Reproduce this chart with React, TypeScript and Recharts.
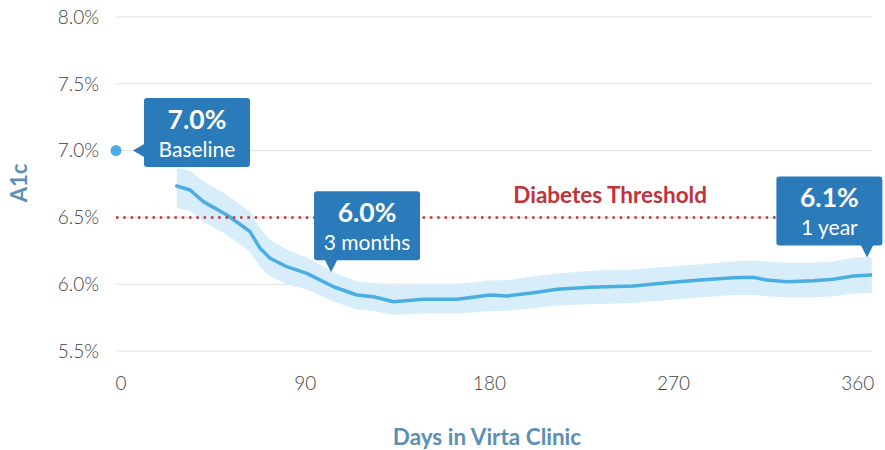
import React from 'react';
import {
  ComposedChart,
  Area,
  Line,
  XAxis,
  YAxis,
  CartesianGrid,
  ReferenceLine,
  ReferenceDot,
} from 'recharts';

// ---- data ----
const days = [
  27.2, 33.7, 40.2, 51.7, 59.8, 63.0, 67.9, 72.8, 81.0, 90.8, 103.8, 115.2, 123.3, 133.1, 147.8, 164.1,
  180.4, 188.5, 201.5, 213.0, 229.2, 250.4, 266.7, 283.0, 299.3, 309.0, 315.6, 325.4, 338.4, 348.1,
  357.9, 366.9,
];
const a1c = [
  6.735, 6.705, 6.618, 6.518, 6.43, 6.393, 6.269, 6.194, 6.131, 6.081, 5.981, 5.919, 5.906, 5.869, 5.887,
  5.887, 5.919, 5.912, 5.936, 5.962, 5.977, 5.987, 6.011, 6.031, 6.049, 6.052, 6.031, 6.019, 6.026,
  6.037, 6.061, 6.069,
];
const upper = [
  6.87, 6.85, 6.77, 6.67, 6.58, 6.54, 6.42, 6.33, 6.26, 6.2, 6.09, 6.02, 6.01, 5.99, 6.0, 6.0, 6.03,
  6.03, 6.06, 6.08, 6.1, 6.11, 6.13, 6.15, 6.17, 6.18, 6.17, 6.16, 6.16, 6.17, 6.2, 6.2,
];
const lower = [
  6.57, 6.55, 6.47, 6.37, 6.28, 6.24, 6.13, 6.06, 6.0, 5.96, 5.87, 5.81, 5.8, 5.77, 5.78, 5.78, 5.8,
  5.8, 5.82, 5.84, 5.85, 5.86, 5.88, 5.9, 5.92, 5.92, 5.91, 5.9, 5.9, 5.91, 5.93, 5.93,
];

const xTicks = [0, 90, 180, 270, 360];
const yTicks = [5.5, 6.0, 6.5, 7.0, 7.5, 8.0];
const xDomain = [-2.5, 367];
const yDomain = [5.5, 8.0];

const baselineDay = -2.5;
const baselineValue = 7.0;

const thresholdValue = 6.5;
const thresholdLabel = 'Diabetes Threshold';
const thresholdLabelDay = 239;

const calloutDays = [5.8, 102.6, 364.6];
const calloutValues = [7.0, 6.09, 6.2];
const calloutBig = ['7.0%', '6.0%', '6.1%'];
const calloutSmall = ['Baseline', '3 months', '1 year'];
const calloutDir = ['left', 'down', 'down'];
const calloutShift = [11, -17, -90.7];

const xLabel = 'Days in Virta Clinic';
const yLabel = 'A1c';

// ---- styles ----
const FONT = 'Lato, "Open Sans", sans-serif';
const LINE_COLOR = '#4aaee3';
const BAND_COLOR = '#d7eefa';
const BOX_COLOR = '#2b7bba';
const RED = '#c1323b';
const AXIS_LABEL_COLOR = '#5d8fb4';
const TICK_COLOR = '#3f3f3f';

const tableData = days.map((d, i) => ({
  day: d,
  a1c: a1c[i],
  range: [lower[i], upper[i]],
}));

const BOX_W = 106;
const BOX_H = 69;

function Callout(props: any) {
  const { cx, cy, big, small, dir, shift } = props;
  if (cx == null || cy == null) return null;
  let bx: number;
  let by: number;
  let arrow: string;
  if (dir === 'left') {
    bx = cx + shift;
    by = cy - 52.5;
    arrow = `M${cx},${cy} L${bx + 1},${cy - 7} L${bx + 1},${cy + 7} Z`;
  } else {
    bx = cx + shift;
    by = cy - 12 - BOX_H;
    arrow = `M${cx},${cy} L${cx - 6.5},${cy - 13} L${cx + 6.5},${cy - 13} Z`;
  }
  return (
    <g>
      <rect x={bx} y={by} width={BOX_W} height={BOX_H} rx={3} ry={3} fill={BOX_COLOR} />
      <path d={arrow} fill={BOX_COLOR} />
      <text
        x={bx + BOX_W / 2}
        y={by + 31}
        textAnchor="middle"
        fontFamily={FONT}
        fontWeight={700}
        fontSize={26.5}
        fill="#ffffff"
      >
        {big}
      </text>
      <text
        x={bx + BOX_W / 2}
        y={by + 59}
        textAnchor="middle"
        fontFamily={FONT}
        fontWeight={400}
        fontSize={21}
        fill="#ffffff"
      >
        {small}
      </text>
    </g>
  );
}

export default function App() {
  return (
    <div style={{ position: 'absolute', left: 0, top: 0, width: 885, height: 450, background: '#fff' }}>
      <ComposedChart
        width={885}
        height={450}
        data={tableData}
        margin={{ top: 17, right: 13, bottom: 0, left: 0 }}
      >
        <CartesianGrid vertical={false} stroke="#e0e0e0" strokeWidth={1} />
        <XAxis
          dataKey="day"
          type="number"
          domain={xDomain}
          ticks={xTicks}
          allowDataOverflow
          axisLine={false}
          tickLine={false}
          tickSize={6}
          tickMargin={20}
          height={99}
          tick={{ fill: TICK_COLOR, fontSize: 19, fontFamily: FONT, fontWeight: 300 }}
          label={{
            content: (p: any) => {
              const vb = p.viewBox || {};
              return (
                <text
                  x={vb.x + vb.width / 2 - 7}
                  y={vb.y + 94}
                  textAnchor="middle"
                  fontFamily={FONT}
                  fontWeight={700}
                  fontSize={22.5}
                  fill={AXIS_LABEL_COLOR}
                >
                  {xLabel}
                </text>
              );
            },
          }}
        />
        <YAxis
          type="number"
          domain={yDomain}
          ticks={yTicks}
          width={116}
          axisLine={false}
          tickLine={false}
          tickSize={6}
          tickMargin={11}
          tickFormatter={(v: number) => `${v.toFixed(1)}%`}
          tick={{ fill: TICK_COLOR, fontSize: 19, fontFamily: FONT, fontWeight: 300 }}
          label={{
            content: (p: any) => {
              const vb = p.viewBox || {};
              const x = vb.x + 27;
              const y = vb.y + vb.height / 2 - 1;
              return (
                <text
                  x={x}
                  y={y}
                  textAnchor="middle"
                  transform={`rotate(-90, ${x}, ${y})`}
                  fontFamily={FONT}
                  fontWeight={700}
                  fontSize={22}
                  fill={AXIS_LABEL_COLOR}
                >
                  {yLabel}
                </text>
              );
            },
          }}
        />
        <Area
          dataKey="range"
          type="linear"
          stroke="none"
          fill={BAND_COLOR}
          fillOpacity={1}
          isAnimationActive={false}
          activeDot={false}
          dot={false}
        />
        <Line
          dataKey="a1c"
          type="linear"
          stroke={LINE_COLOR}
          strokeWidth={3.5}
          strokeLinejoin="round"
          strokeLinecap="round"
          dot={false}
          activeDot={false}
          isAnimationActive={false}
        />
        <ReferenceLine
          y={thresholdValue}
          stroke={RED}
          strokeWidth={2.5}
          strokeDasharray="2.5 4.8"
          zIndex={450}
        />
        <ReferenceDot
          x={thresholdLabelDay}
          y={thresholdValue}
          r={0}
          ifOverflow="visible"
          zIndex={1400}
          shape={(p: any) => (
            <text
              x={p.cx}
              y={p.cy - 14.7}
              textAnchor="middle"
              fontFamily={FONT}
              fontWeight={700}
              fontSize={22.5}
              fill={RED}
            >
              {thresholdLabel}
            </text>
          )}
        />
        <ReferenceDot
          x={baselineDay}
          y={baselineValue}
          r={5.5}
          fill={LINE_COLOR}
          stroke="none"
          ifOverflow="visible"
          zIndex={1400}
        />
        {calloutDays.map((d, i) => (
          <ReferenceDot
            key={i}
            x={d}
            y={calloutValues[i]}
            r={0}
            ifOverflow="visible"
            zIndex={1500}
            shape={(p: any) => (
              <Callout
                cx={p.cx}
                cy={p.cy}
                big={calloutBig[i]}
                small={calloutSmall[i]}
                dir={calloutDir[i]}
                shift={calloutShift[i]}
              />
            )}
          />
        ))}
      </ComposedChart>
    </div>
  );
}
